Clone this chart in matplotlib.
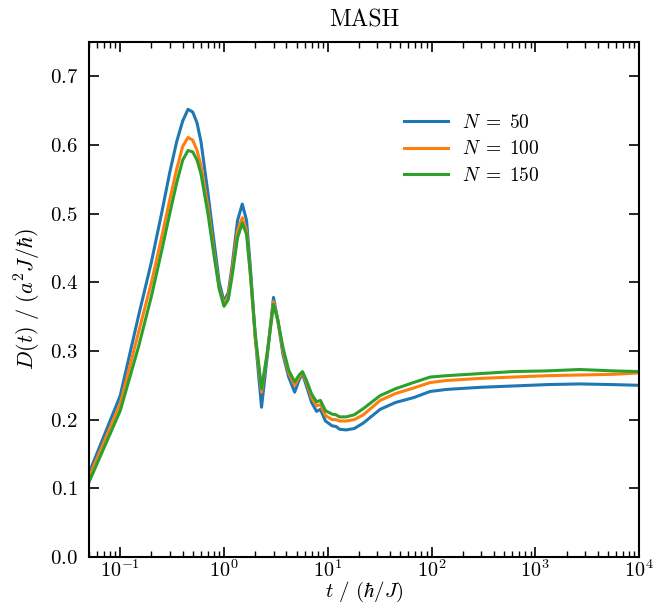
import math
import matplotlib
matplotlib.use("Agg")
import matplotlib.pyplot as plt
from matplotlib.ticker import FuncFormatter, LogLocator, NullLocator, FixedLocator

plt.rcParams['font.family'] = 'serif'
plt.rcParams['font.serif'] = ['cmr10', 'DejaVu Serif']
plt.rcParams['mathtext.fontset'] = 'cm'
plt.rcParams['axes.formatter.use_mathtext'] = True

t = [0.05, 0.1, 0.15, 0.2, 0.25, 0.3, 0.35, 0.4, 0.45, 0.5, 0.55, 0.6, 0.7, 0.8, 0.9,
     1.0, 1.1, 1.2, 1.35, 1.5, 1.65, 1.8, 2.0, 2.3, 2.6, 3.0, 3.3, 3.7, 4.2, 4.8,
     5.3, 5.7, 6.2, 7.0, 7.8, 8.5, 9.5, 11, 12, 13, 15, 18, 22, 32, 45, 67, 97,
     140, 290, 610, 1290, 2690, 5640, 10000]

d_n50 = [0.122, 0.235, 0.351, 0.430, 0.500, 0.560, 0.605, 0.635, 0.652, 0.648, 0.632, 0.605,
         0.530, 0.460, 0.400, 0.372, 0.385, 0.425, 0.490, 0.514, 0.490, 0.420, 0.320, 0.218,
         0.290, 0.378, 0.345, 0.295, 0.262, 0.240, 0.258, 0.267, 0.250, 0.225, 0.212, 0.215,
         0.198, 0.191, 0.190, 0.186, 0.185, 0.187, 0.195, 0.215, 0.225, 0.232, 0.241,
         0.244, 0.247, 0.249, 0.251, 0.252, 0.251, 0.250]

d_n100 = [0.116, 0.223, 0.327, 0.400, 0.465, 0.520, 0.565, 0.598, 0.611, 0.607, 0.592, 0.570,
          0.510, 0.445, 0.392, 0.368, 0.380, 0.418, 0.475, 0.494, 0.475, 0.410, 0.320, 0.240,
          0.295, 0.372, 0.345, 0.300, 0.268, 0.250, 0.262, 0.268, 0.255, 0.232, 0.220, 0.222,
          0.206, 0.200, 0.200, 0.198, 0.198, 0.200, 0.207, 0.228, 0.238, 0.246, 0.254,
          0.257, 0.260, 0.262, 0.264, 0.265, 0.266, 0.268]

d_n150 = [0.109, 0.213, 0.306, 0.380, 0.445, 0.500, 0.545, 0.578, 0.592, 0.590, 0.578, 0.558,
          0.500, 0.440, 0.390, 0.365, 0.375, 0.410, 0.465, 0.486, 0.470, 0.410, 0.325, 0.245,
          0.295, 0.368, 0.345, 0.305, 0.272, 0.255, 0.265, 0.270, 0.258, 0.237, 0.226, 0.228,
          0.213, 0.208, 0.207, 0.204, 0.204, 0.207, 0.216, 0.235, 0.245, 0.254, 0.262,
          0.264, 0.267, 0.270, 0.271, 0.273, 0.271, 0.270]

labels = [r'$N\;=\;50$', r'$N\;=\;100$', r'$N\;=\;150$']
colors = ['#1f77b4', '#ff7f0e', '#2ca02c']
yticks = [0.0, 0.1, 0.2, 0.3, 0.4, 0.5, 0.6, 0.7]

fig = plt.figure(figsize=(6.53, 6.10), dpi=100)
ax = fig.add_axes([0.1363, 0.0870, 0.8423, 0.8441])

for d, lab, c in zip([d_n50, d_n100, d_n150], labels, colors):
    ax.plot(t, d, color=c, lw=2.2, label=lab)

ax.set_xscale('log')
ax.set_xlim(0.05, 1e4)
ax.set_ylim(0.0, 0.75)
ax.yaxis.set_major_locator(FixedLocator(yticks))
ax.yaxis.set_minor_locator(NullLocator())
ax.yaxis.set_major_formatter(FuncFormatter(lambda v, p: r'$%.1f$' % v))
ax.xaxis.set_major_locator(LogLocator(base=10, numticks=12))
ax.xaxis.set_minor_locator(LogLocator(base=10, subs=range(2, 10), numticks=12))
ax.xaxis.set_major_formatter(FuncFormatter(lambda v, p: r'$10^{%d}$' % round(math.log10(v))))

ax.tick_params(which='both', direction='in', top=True, right=True, labelsize=15)
ax.tick_params(axis='x', labelsize=14.5)
ax.tick_params(axis='y', which='major', pad=8)
ax.tick_params(axis='x', which='major', pad=2)
ax.tick_params(which='major', length=7, width=1.2)
ax.tick_params(which='minor', length=4, width=1.0)
for s in ax.spines.values():
    s.set_linewidth(1.5)

ax.set_xlabel(r'$t\ /\ (\hbar/J)$', fontsize=15, labelpad=-1)
ax.set_ylabel(r'$D(t)\ /\ (a^2J/\hbar)$', fontsize=16, labelpad=5)
ax.set_title('MASH', fontsize=17, pad=11)

ax.legend(loc='upper left', bbox_to_anchor=(0.54, 0.895), frameon=False, fontsize=14,
          handlelength=2.3, labelspacing=0.45, handletextpad=0.7)

fig.savefig('out.png', dpi=100)
